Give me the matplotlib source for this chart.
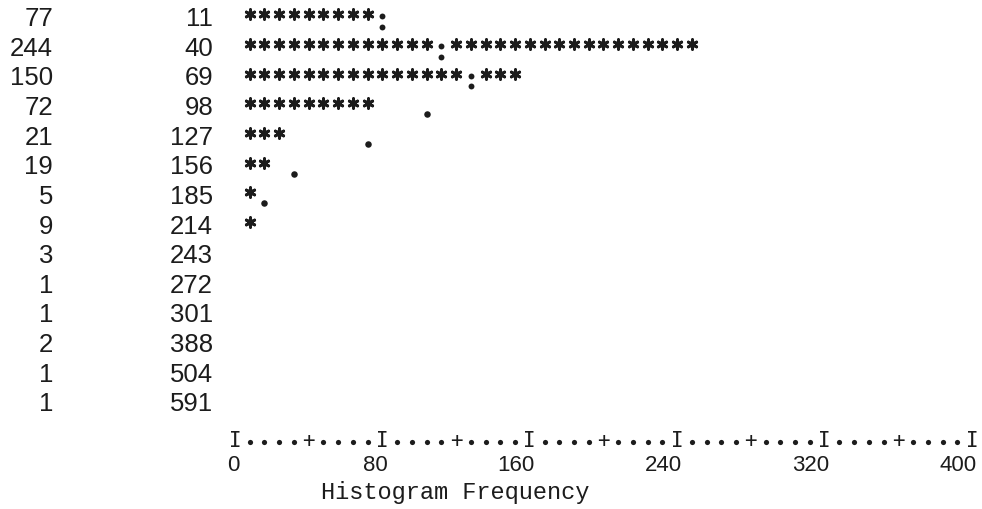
#!/usr/bin/env python3

# Line-printer style histogram (counts, bin midpoints, star bars, fitted curve dots)

import numpy as np
import matplotlib.pyplot as plt

# Data
counts    = [77, 244, 150, 72, 21, 19, 5, 9, 3, 1, 1, 2, 1, 1]
midpoints = [11, 40, 69, 98, 127, 156, 185, 214, 243, 272, 301, 388, 504, 591]
# fitted curve (frequency), shown as '.' or ':' where it hits a bar
curve     = [80, 112, 128, 104, 72, 32, 16, 0, 0, 0, 0, 0, 0, 0]
tick_vals = [0, 80, 160, 240, 320, 400]
step      = 8      # frequency per printed character
ink       = '#1c1c1c'

fig = plt.figure(figsize=(9.82, 5.1), dpi=100)
ax = fig.add_axes([0, 0, 1, 1])
ax.set_xlim(-127.5, 405.4)
ax.set_ylim(16.56, -0.641)
ax.axis('off')

num_font = dict(family='Liberation Sans', fontsize=18.5, color=ink)
tick_font = dict(family='Liberation Sans', fontsize=16, color=ink)
mono_font = dict(family='Liberation Mono', fontsize=17, color=ink)
axis_font = dict(family='DejaVu Sans Mono', fontsize=15, color=ink)

star_x, star_y = [], []
dot_x, dot_y = [], []
col_x, col_y = [], []

for i, (c, m, f) in enumerate(zip(counts, midpoints, curve)):
    ax.text(-98.8, i, str(c), ha='right', va='center', **num_font)
    ax.text(-11.9, i, str(m), ha='right', va='center', **num_font)
    nbar = int(np.floor(c / step + 0.5))
    ncur = int(np.floor(f / step + 0.5))
    for k in range(1, nbar + 1):
        if k == ncur:
            col_x.append(k * step)
            col_y.append(i)
        else:
            star_x.append(k * step)
            star_y.append(i - 0.12)
    if ncur > nbar:
        dot_x.append(ncur * step)
        dot_y.append(i + 0.25)

ax.scatter(star_x, star_y, marker=(6, 2, 0), s=48, linewidths=2.1, color=ink)
ax.scatter(dot_x, dot_y, marker='o', s=22, color=ink, linewidths=0)
ax.scatter(col_x, np.array(col_y) - 0.06, marker='o', s=18, color=ink, linewidths=0)
ax.scatter(col_x, np.array(col_y) + 0.3, marker='o', s=18, color=ink, linewidths=0)

# axis line drawn like the printer: I every 80, + halfway, dots between
axis_row = 14.23
ax_dots = []
for v in range(0, 401, step):
    if v % 80 == 0:
        ax.text(v, axis_row, 'I', ha='center', va='center', **axis_font)
    elif v % 40 == 0:
        ax.text(v, axis_row, '+', ha='center', va='center', **axis_font)
    else:
        ax_dots.append(v)
ax.scatter(ax_dots, [axis_row + 0.08] * len(ax_dots), marker='o', s=14,
           color=ink, linewidths=0)

for v in tick_vals:
    ax.text(v + 2.7, 15.07, str(v), ha='right', va='center', **tick_font)

ax.text(119.5, 15.98, 'Histogram Frequency', ha='center', va='center', **mono_font)

fig.savefig('out.png', dpi=100)
